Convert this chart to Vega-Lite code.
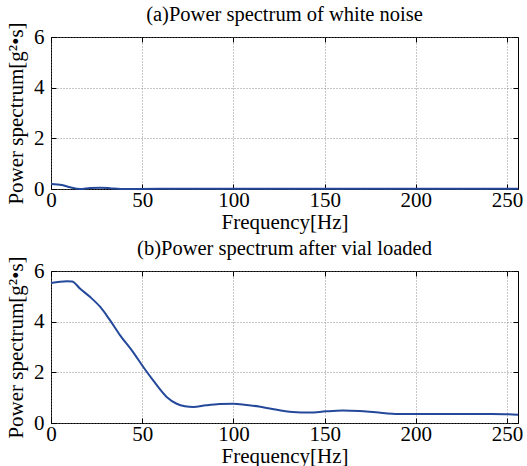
{
  "$schema": "https://vega.github.io/schema/vega-lite/v6.json",
  "padding": {"left": 4, "top": 4, "right": 5, "bottom": 0},
  "bounds": "flush",
  "spacing": 82,
  "background": "white",
  "datasets": {
    "a": [
      {"f": 0, "p": 0.2}, {"f": 6, "p": 0.16}, {"f": 10.5, "p": 0.07}, {"f": 16, "p": 0.0},
      {"f": 21.5, "p": 0.04}, {"f": 27, "p": 0.05}, {"f": 32.4, "p": 0.03}, {"f": 38, "p": 0.0},
      {"f": 60, "p": 0.01}, {"f": 100, "p": 0.01}, {"f": 150, "p": 0.01}, {"f": 200, "p": 0.01},
      {"f": 256, "p": 0.01}
    ],
    "b": [
      {"f": 0, "p": 5.53}, {"f": 8.7, "p": 5.6}, {"f": 11.5, "p": 5.59}, {"f": 16, "p": 5.3},
      {"f": 21.5, "p": 4.97}, {"f": 27, "p": 4.58}, {"f": 32.4, "p": 4.05}, {"f": 37.9, "p": 3.46},
      {"f": 45, "p": 2.8}, {"f": 50.6, "p": 2.21}, {"f": 56, "p": 1.68}, {"f": 63.4, "p": 1.03},
      {"f": 68.9, "p": 0.76}, {"f": 73.4, "p": 0.66}, {"f": 78, "p": 0.63}, {"f": 85, "p": 0.7},
      {"f": 92.5, "p": 0.75}, {"f": 100, "p": 0.76}, {"f": 107, "p": 0.71}, {"f": 114, "p": 0.65},
      {"f": 120, "p": 0.57}, {"f": 132.5, "p": 0.43}, {"f": 141.7, "p": 0.41}, {"f": 150.8, "p": 0.46},
      {"f": 159.9, "p": 0.49}, {"f": 169, "p": 0.47}, {"f": 178, "p": 0.42}, {"f": 190.8, "p": 0.36},
      {"f": 205.4, "p": 0.36}, {"f": 223.6, "p": 0.36}, {"f": 241.8, "p": 0.36}, {"f": 256, "p": 0.33}
    ]
  },
  "config": {
    "font": "Liberation Serif, Times New Roman, serif",
    "view": {"stroke": "black", "strokeWidth": 1},
    "title": {"font": "Liberation Serif, Times New Roman, serif", "fontSize": 20.5, "fontWeight": "normal", "color": "black", "offset": -4},
    "axis": {
      "labelFont": "Liberation Serif, Times New Roman, serif", "labelFontSize": 21, "labelColor": "black",
      "titleFont": "Liberation Serif, Times New Roman, serif", "titleFontSize": 21, "titleFontWeight": "normal", "titleColor": "black",
      "domain": false, "tickColor": "black", "tickSize": -5,
      "gridColor": "#777", "gridDash": [1, 2], "gridOpacity": 0.8, "gridWidth": 1
    }
  },
  "vconcat": [
    {
      "width": 467, "height": 152,
      "title": "(a)Power spectrum of white noise",
      "data": {"name": "a"},
      "layer": [
        {
          "mark": {"type": "line", "color": "#24499b", "strokeWidth": 2, "interpolate": "monotone"},
          "encoding": {
            "x": {"field": "f", "type": "quantitative", "scale": {"domain": [0, 256], "nice": false},
              "axis": {"values": [0, 50, 100, 150, 200, 250], "title": "Frequency[Hz]", "labelPadding": 5, "titlePadding": 1, "labelFlush": false}},
            "y": {"field": "p", "type": "quantitative", "scale": {"domain": [0, 6], "nice": false},
              "axis": {"values": [0, 2, 4, 6], "title": "Power spectrum[g²•s]", "labelPadding": 12, "titlePadding": 7}}
          }
        },
        {
          "mark": {"type": "line", "opacity": 0},
          "encoding": {
            "x": {"field": "f", "type": "quantitative", "axis": {"orient": "top", "values": [0, 50, 100, 150, 200, 250], "labels": false, "title": null, "grid": false}},
            "y": {"field": "p", "type": "quantitative", "axis": {"orient": "right", "values": [0, 2, 4, 6], "labels": false, "title": null, "grid": false}}
          }
        }
      ],
      "resolve": {"axis": {"x": "independent", "y": "independent"}}
    },
    {
      "width": 467, "height": 152,
      "title": "(b)Power spectrum after vial loaded",
      "data": {"name": "b"},
      "layer": [
        {
          "mark": {"type": "line", "color": "#24499b", "strokeWidth": 2, "interpolate": "monotone"},
          "encoding": {
            "x": {"field": "f", "type": "quantitative", "scale": {"domain": [0, 256], "nice": false},
              "axis": {"values": [0, 50, 100, 150, 200, 250], "title": "Frequency[Hz]", "labelPadding": 5, "titlePadding": 1, "labelFlush": false}},
            "y": {"field": "p", "type": "quantitative", "scale": {"domain": [0, 6], "nice": false},
              "axis": {"values": [0, 2, 4, 6], "title": "Power spectrum[g²•s]", "labelPadding": 12, "titlePadding": 7}}
          }
        },
        {
          "mark": {"type": "line", "opacity": 0},
          "encoding": {
            "x": {"field": "f", "type": "quantitative", "axis": {"orient": "top", "values": [0, 50, 100, 150, 200, 250], "labels": false, "title": null, "grid": false}},
            "y": {"field": "p", "type": "quantitative", "axis": {"orient": "right", "values": [0, 2, 4, 6], "labels": false, "title": null, "grid": false}}
          }
        }
      ],
      "resolve": {"axis": {"x": "independent", "y": "independent"}}
    }
  ]
}
